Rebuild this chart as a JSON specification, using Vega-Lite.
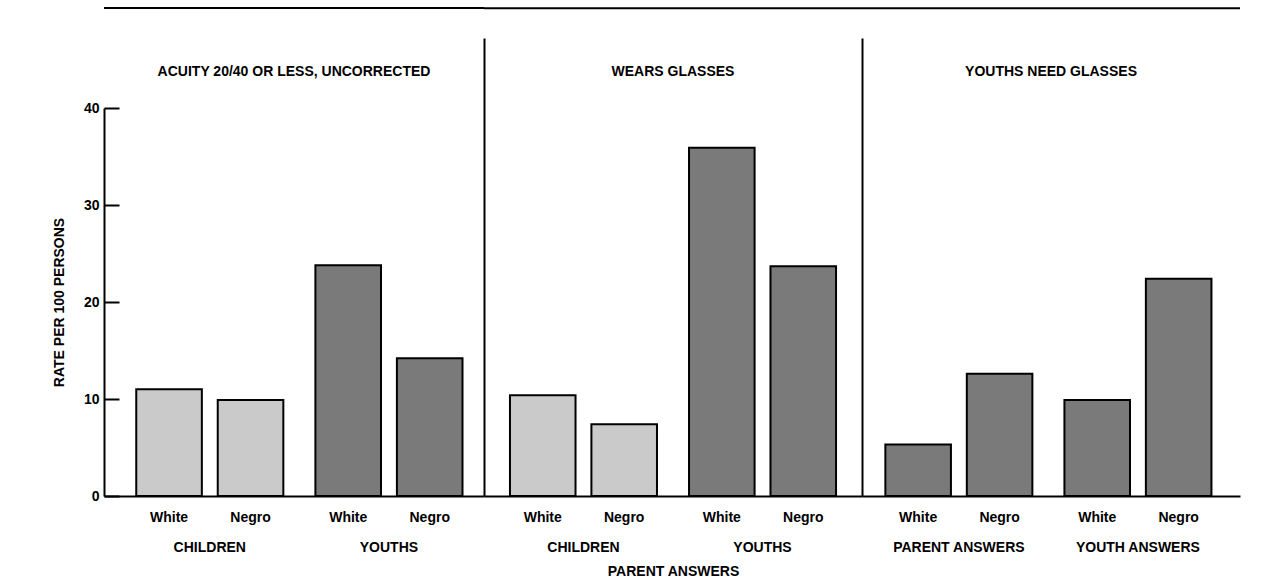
{
  "$schema": "https://vega.github.io/schema/vega-lite/v6.json",
  "background": "white",
  "padding": {"left": 52, "top": 7, "right": 5, "bottom": 5},
  "bounds": "flush",
  "spacing": 0,
  "config": {
    "font": "Liberation Sans",
    "view": {"stroke": null},
    "axis": {"labelFont": "Liberation Sans", "titleFont": "Liberation Sans", "labelColor": "black", "titleColor": "black", "grid": false},
    "text": {"font": "Liberation Sans", "fontSize": 14, "fontWeight": "bold", "color": "black"}
  },
  "resolve": {"scale": {"x": "independent", "y": "independent", "xOffset": "independent", "color": "independent"}},
  "datasets": {
    "rates": [
      {"panel": "ACUITY 20/40 OR LESS, UNCORRECTED", "group": "CHILDREN", "race": "White", "sample": "Children", "rate": 11.0},
      {"panel": "ACUITY 20/40 OR LESS, UNCORRECTED", "group": "CHILDREN", "race": "Negro", "sample": "Children", "rate": 9.9},
      {"panel": "ACUITY 20/40 OR LESS, UNCORRECTED", "group": "YOUTHS", "race": "White", "sample": "Youths", "rate": 23.8},
      {"panel": "ACUITY 20/40 OR LESS, UNCORRECTED", "group": "YOUTHS", "race": "Negro", "sample": "Youths", "rate": 14.2},
      {"panel": "WEARS GLASSES", "group": "CHILDREN", "race": "White", "sample": "Children", "rate": 10.4},
      {"panel": "WEARS GLASSES", "group": "CHILDREN", "race": "Negro", "sample": "Children", "rate": 7.4},
      {"panel": "WEARS GLASSES", "group": "YOUTHS", "race": "White", "sample": "Youths", "rate": 35.9},
      {"panel": "WEARS GLASSES", "group": "YOUTHS", "race": "Negro", "sample": "Youths", "rate": 23.7},
      {"panel": "YOUTHS NEED GLASSES", "group": "PARENT ANSWERS", "race": "White", "sample": "Youths", "rate": 5.3},
      {"panel": "YOUTHS NEED GLASSES", "group": "PARENT ANSWERS", "race": "Negro", "sample": "Youths", "rate": 12.6},
      {"panel": "YOUTHS NEED GLASSES", "group": "YOUTH ANSWERS", "race": "White", "sample": "Youths", "rate": 9.9},
      {"panel": "YOUTHS NEED GLASSES", "group": "YOUTH ANSWERS", "race": "Negro", "sample": "Youths", "rate": 22.4}
    ]
  },
  "hconcat": [
    {
      "width": 380,
      "height": 458,
      "layer": [
        {
          "data": {"name": "rates"},
          "transform": [{"filter": {"field": "panel", "equal": "ACUITY 20/40 OR LESS, UNCORRECTED"}}],
          "layer": [
            {
              "mark": {"type": "bar", "stroke": "black", "strokeWidth": 2},
              "encoding": {
                "x": {"field": "group", "type": "nominal", "sort": null,
                      "scale": {"paddingInner": 0.179, "paddingOuter": 0.15, "align": 0.6},
                      "axis": {"title": null, "ticks": false, "domainColor": "black", "domainWidth": 2, "labelAngle": 0, "labelPadding": 44, "labelFontSize": 14, "labelFontWeight": "bold"}},
                "xOffset": {"field": "race", "sort": ["White", "Negro"], "scale": {"paddingInner": 0.195, "paddingOuter": 0}},
                "y": {"field": "rate", "type": "quantitative",
                      "scale": {"domain": [0, 40], "range": [458, 70], "nice": false},
                      "axis": {"values": [0, 10, 20, 30, 40], "title": "RATE PER 100 PERSONS", "tickSize": -15, "tickWidth": 2, "tickColor": "black", "domainColor": "black", "domainWidth": 2, "labelPadding": 20, "labelFontSize": 14, "labelFontWeight": "bold", "titleFontSize": 14, "titleFontWeight": "bold", "titlePadding": 17}},
                "color": {"field": "sample", "type": "nominal", "scale": {"domain": ["Children", "Youths"], "range": ["#cacaca", "#7a7a7a"]}, "legend": null}
              }
            },
            {
              "mark": {"type": "text", "dy": 22, "baseline": "middle"},
              "encoding": {
                "x": {"field": "group", "type": "nominal", "sort": null},
                "xOffset": {"field": "race", "sort": ["White", "Negro"]},
                "y": {"datum": 0},
                "text": {"field": "race"}
              }
            }
          ]
        },
        {
          "data": {"values": [{"title": "ACUITY 20/40 OR LESS, UNCORRECTED"}]},
          "mark": {"type": "text", "baseline": "middle"},
          "encoding": {"y": {"datum": 43.7}, "text": {"field": "title"}}
        },
        {
          "data": {"values": [{"frame": "top"}]},
          "mark": {"type": "rule", "color": "black", "strokeWidth": 2},
          "encoding": {"y": {"datum": 50.3}}
        }
      ]
    },
    {
      "width": 378,
      "height": 458,
      "layer": [
        {
          "data": {"name": "rates"},
          "transform": [{"filter": {"field": "panel", "equal": "WEARS GLASSES"}}],
          "layer": [
            {
              "mark": {"type": "bar", "stroke": "black", "strokeWidth": 2},
              "encoding": {
                "x": {"field": "group", "type": "nominal", "sort": null,
                      "scale": {"paddingInner": 0.179, "paddingOuter": 0.145},
                      "axis": {"title": "PARENT ANSWERS", "ticks": false, "domainColor": "black", "domainWidth": 2, "labelAngle": 0, "labelPadding": 44, "labelFontSize": 14, "labelFontWeight": "bold", "titleFontSize": 14, "titleFontWeight": "bold", "titlePadding": 10}},
                "xOffset": {"field": "race", "sort": ["White", "Negro"], "scale": {"paddingInner": 0.195, "paddingOuter": 0}},
                "y": {"field": "rate", "type": "quantitative",
                      "scale": {"domain": [0, 47.22], "nice": false},
                      "axis": {"labels": false, "ticks": false, "title": null, "domainColor": "black", "domainWidth": 2, "minExtent": 0, "maxExtent": 0}},
                "color": {"field": "sample", "type": "nominal", "scale": {"domain": ["Children", "Youths"], "range": ["#cacaca", "#7a7a7a"]}, "legend": null}
              }
            },
            {
              "mark": {"type": "text", "dy": 22, "baseline": "middle"},
              "encoding": {
                "x": {"field": "group", "type": "nominal", "sort": null},
                "xOffset": {"field": "race", "sort": ["White", "Negro"]},
                "y": {"datum": 0},
                "text": {"field": "race"}
              }
            }
          ]
        },
        {
          "data": {"values": [{"title": "WEARS GLASSES"}]},
          "mark": {"type": "text", "baseline": "middle"},
          "encoding": {"y": {"datum": 43.7}, "text": {"field": "title"}}
        },
        {
          "data": {"values": [{"frame": "top"}]},
          "mark": {"type": "rule", "color": "black", "strokeWidth": 2},
          "encoding": {"y": {"datum": 50.3}}
        }
      ]
    },
    {
      "width": 378,
      "height": 458,
      "layer": [
        {
          "data": {"name": "rates"},
          "transform": [{"filter": {"field": "panel", "equal": "YOUTHS NEED GLASSES"}}],
          "layer": [
            {
              "mark": {"type": "bar", "stroke": "black", "strokeWidth": 2},
              "encoding": {
                "x": {"field": "group", "type": "nominal", "sort": null,
                      "scale": {"paddingInner": 0.179, "paddingOuter": 0.145, "align": 0.45},
                      "axis": {"title": null, "ticks": false, "domainColor": "black", "domainWidth": 2, "labelAngle": 0, "labelPadding": 44, "labelFontSize": 14, "labelFontWeight": "bold"}},
                "xOffset": {"field": "race", "sort": ["White", "Negro"], "scale": {"paddingInner": 0.195, "paddingOuter": 0}},
                "y": {"field": "rate", "type": "quantitative",
                      "scale": {"domain": [0, 47.22], "nice": false},
                      "axis": {"labels": false, "ticks": false, "title": null, "domainColor": "black", "domainWidth": 2, "minExtent": 0, "maxExtent": 0}},
                "color": {"field": "sample", "type": "nominal", "scale": {"domain": ["Children", "Youths"], "range": ["#cacaca", "#7a7a7a"]}, "legend": null}
              }
            },
            {
              "mark": {"type": "text", "dy": 22, "baseline": "middle"},
              "encoding": {
                "x": {"field": "group", "type": "nominal", "sort": null},
                "xOffset": {"field": "race", "sort": ["White", "Negro"]},
                "y": {"datum": 0},
                "text": {"field": "race"}
              }
            }
          ]
        },
        {
          "data": {"values": [{"title": "YOUTHS NEED GLASSES"}]},
          "mark": {"type": "text", "baseline": "middle"},
          "encoding": {"y": {"datum": 43.7}, "text": {"field": "title"}}
        },
        {
          "data": {"values": [{"frame": "top"}]},
          "mark": {"type": "rule", "color": "black", "strokeWidth": 2},
          "encoding": {"y": {"datum": 50.3}}
        }
      ]
    }
  ]
}
